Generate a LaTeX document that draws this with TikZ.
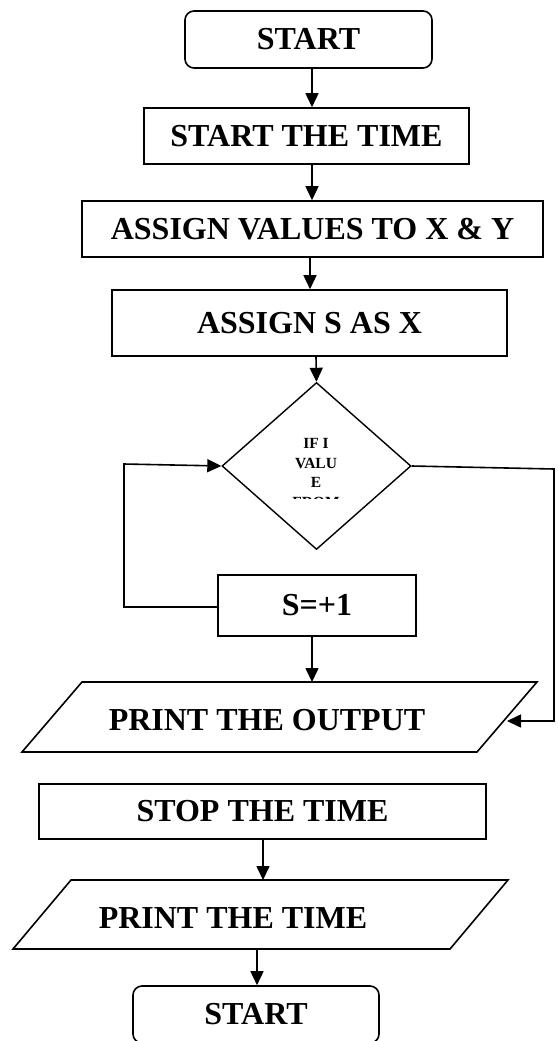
\documentclass[tikz,border=0pt]{standalone}
\usepackage{fontspec}
\setmainfont{Liberation Serif}
\usetikzlibrary{arrows.meta,shapes.geometric}
\begin{document}
\begin{tikzpicture}[x=1pt,y=-1pt,
  line width=1.6pt,
  box/.style={draw,rectangle,inner sep=0pt,font=\fontsize{32}{36}\selectfont\bfseries},
  term/.style={box,rounded corners=9pt},
  lbl/.style={inner sep=0pt,font=\fontsize{32}{36}\selectfont\bfseries},
  arr/.style={-{Triangle[length=14pt,width=13pt]}},
  ln/.style={line width=1.6pt}]
\clip (0,0) rectangle (557,1041);
\useasboundingbox (0,0) rectangle (557,1041);
% guide coordinates
\coordinate (ax) at (312,0);
\coordinate (bx) at (310,0);
\coordinate (cx) at (316,0);
\coordinate (dx) at (263,0);
\coordinate (ex) at (257,0);
% nodes
\node[term,minimum width=247pt,minimum height=57pt] (start) at (308.5,39.5) {START};
\node[box,minimum width=325pt,minimum height=56pt] (t1) at (306.5,136) {START THE TIME};
\node[box,minimum width=461pt,minimum height=56pt] (t2) at (312.5,229) {ASSIGN VALUES TO X \& Y};
\node[box,minimum width=395pt,minimum height=66pt] (t3) at (309.5,323) {ASSIGN S AS X};
\node[draw,diamond,inner sep=0pt,minimum width=189pt,minimum height=167pt,line width=1.4pt] (dec) at (316.5,466) {};
\begin{scope}
\clip (250,430) rectangle (380,498);
\node[inner sep=0pt,align=center,font=\fontsize{15.5}{19.5}\selectfont\bfseries] (dtext) at (316,473) {IF I\\VALU\\E\\FROM};
\end{scope}
\node[box,minimum width=198pt,minimum height=61pt] (inc) at (317,605.5) {S=+1};
% print output parallelogram
\coordinate (po1) at (82,682);
\coordinate (po2) at (537,682);
\coordinate (po3) at (477,752);
\coordinate (po4) at (22,752);
\draw[ln] (po1) -- (po2) -- (po3) -- (po4) -- cycle;
\node[lbl] (pot) at (267,720) {PRINT THE OUTPUT};
\node[box,minimum width=447pt,minimum height=55pt] (stop) at (262.5,811.5) {STOP THE TIME};
% print time parallelogram
\coordinate (pt1) at (71,880);
\coordinate (pt2) at (508,880);
\coordinate (pt3) at (450,949);
\coordinate (pt4) at (13,949);
\draw[ln] (pt1) -- (pt2) -- (pt3) -- (pt4) -- cycle;
\node[lbl] (ptt) at (233,918) {PRINT THE TIME};
\node[term,minimum width=246pt,minimum height=57pt] (fin) at (256,1014.5) {START};
% connectors
\draw[arr] (ax |- start.south) -- (ax |- t1.north);
\draw[arr] (ax |- t1.south) -- (ax |- t2.north);
\draw[arr] (bx |- t2.south) -- (bx |- t3.north);
\draw[arr] (cx |- t3.south) -- (dec.north);
\coordinate (lp1) at (124,607);
\coordinate (lp2) at (124,464);
\draw[arr] (inc.west |- lp1) -- (lp1) -- (lp2) -- (dec.west);
\coordinate (rp1) at (554,469);
\coordinate (rp2) at (554,721);
\coordinate (rend) at (507,721);
\draw[arr] (dec.east) -- (rp1) -- (rp2) -- (rend);
\draw[arr] (ax |- inc.south) -- (ax |- po1);
\draw[arr] (dx |- stop.south) -- (dx |- pt1);
\draw[arr] (ex |- pt4) -- (ex |- fin.north);
\end{tikzpicture}
\end{document}
